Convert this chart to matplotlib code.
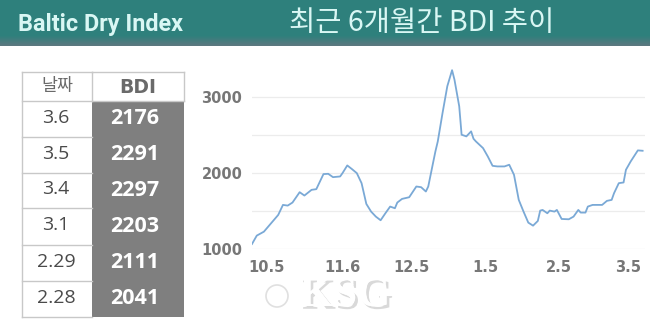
import matplotlib
matplotlib.use("Agg")
import matplotlib.pyplot as plt
import matplotlib.patheffects as pe
import numpy as np
import pandas as pd

plt.rcParams['font.family'] = ['Noto Sans CJK KR', 'DejaVu Sans']

# ---- data ----
dates = ["2023-09-29", "2023-10-01", "2023-10-04", "2023-10-07", "2023-10-10", "2023-10-12",
         "2023-10-14", "2023-10-16", "2023-10-19", "2023-10-21", "2023-10-24", "2023-10-26",
         "2023-10-29", "2023-10-31", "2023-11-02", "2023-11-05", "2023-11-06", "2023-11-08",
         "2023-11-10", "2023-11-12", "2023-11-14", "2023-11-16", "2023-11-18", "2023-11-20",
         "2023-11-22", "2023-11-24", "2023-11-26", "2023-11-28", "2023-11-29", "2023-12-01",
         "2023-12-04", "2023-12-07", "2023-12-09", "2023-12-11", "2023-12-12", "2023-12-14",
         "2023-12-15", "2023-12-16", "2023-12-18", "2023-12-20", "2023-12-22", "2023-12-23",
         "2023-12-25", "2023-12-26", "2023-12-28", "2023-12-30", "2023-12-31", "2024-01-01",
         "2024-01-04", "2024-01-06", "2024-01-08", "2024-01-10", "2024-01-13", "2024-01-15",
         "2024-01-17", "2024-01-19", "2024-01-21", "2024-01-23", "2024-01-25", "2024-01-27",
         "2024-01-28", "2024-01-29", "2024-01-31", "2024-02-01", "2024-02-03", "2024-02-04",
         "2024-02-06", "2024-02-09", "2024-02-11", "2024-02-13", "2024-02-14", "2024-02-16",
         "2024-02-17", "2024-02-19", "2024-02-21", "2024-02-23", "2024-02-25", "2024-02-27",
         "2024-02-28", "2024-03-01", "2024-03-03", "2024-03-04", "2024-03-06", "2024-03-09",
         "2024-03-11"]
bdi = [1066, 1176, 1228, 1338, 1448, 1580,
       1571, 1611, 1747, 1703, 1778, 1787,
       1985, 1989, 1945, 1954, 1998, 2099,
       2050, 1998, 1866, 1593, 1492, 1426,
       1378, 1470, 1558, 1536, 1611, 1659,
       1681, 1822, 1813, 1756, 1822, 2130,
       2283, 2415, 2789, 3141, 3352, 3228,
       2877, 2503, 2481, 2547, 2450, 2415,
       2327, 2217, 2094, 2086, 2086, 2108,
       1976, 1646, 1492, 1347, 1307, 1369,
       1505, 1514, 1470, 1505, 1492, 1514,
       1395, 1391, 1426, 1514, 1479, 1479,
       1558, 1580, 1580, 1580, 1633, 1646,
       1734, 1866, 1875, 2042, 2152, 2297,
       2292]

tick_dates = ["2023-10-05", "2023-11-06", "2023-12-05", "2024-01-05", "2024-02-05", "2024-03-05"]
tick_labels = ["10.5", "11.6", "12.5", "1.5", "2.5", "3.5"]
y_ticks = [1000, 2000, 3000]

table_dates = ["3.6", "3.5", "3.4", "3.1", "2.29", "2.28"]
table_bdi = ["2176", "2291", "2297", "2203", "2111", "2041"]
table_header = ["날짜", "BDI"]

header_left = "Baltic Dry Index"
header_title = "최근 6개월간 BDI 추이"
watermark = "KSG"

# ---- figure ----
W, H = 650, 330
fig = plt.figure(figsize=(W / 100, H / 100), dpi=100)
fig.patch.set_facecolor("white")

# full-figure overlay axes in pixel coords (y down)
tax = fig.add_axes([0, 0, 1, 1])
tax.set_axis_off()

# header band with gradient
top = np.array([0x2e, 0x80, 0x7c]) / 255
bot = np.array([0x5c, 0x78, 0x80]) / 255
t = np.linspace(0, 1, 46)
w = np.clip((t - 0.78) / 0.22, 0, 1)[:, None]
grad = top[None, :] * (1 - w) + bot[None, :] * w
tax.imshow(grad[:, None, :], aspect="auto", extent=[0, W, 46, 0], zorder=0)
tax.set_xlim(0, W)
tax.set_ylim(H, 0)
tax.text(18, 24, header_left, color="#d9f7f4", fontsize=16.8, fontweight="bold",
         va="center", ha="left", family=["Roboto", "DejaVu Sans"], zorder=2)
tax.text(422, 23, header_title, color="#d9f7f4", fontsize=20.5, va="center", ha="center", zorder=2)

# table
x0, x1, x2 = 22, 92, 184
row_edges = [72, 101, 137, 173, 208, 245, 281, 317]
line_c = "#c8c8c8"
tax.add_patch(plt.Rectangle((x1, row_edges[1]), x2 - x1, row_edges[-1] - row_edges[1],
                            facecolor="#7f7f7f", edgecolor="none", zorder=1))
for yy in row_edges:
    tax.plot([x0, x1], [yy, yy], color=line_c, lw=1, zorder=2)
tax.plot([x1, x2], [row_edges[0], row_edges[0]], color=line_c, lw=1, zorder=2)
tax.plot([x1, x2], [row_edges[1], row_edges[1]], color=line_c, lw=1, zorder=2)
tax.plot([x0, x0], [row_edges[0], row_edges[-1]], color=line_c, lw=1, zorder=2)
tax.plot([x1, x1], [row_edges[0], row_edges[1]], color=line_c, lw=1, zorder=2)
tax.plot([x2, x2], [row_edges[0], row_edges[1]], color=line_c, lw=1, zorder=2)

cy = (row_edges[0] + row_edges[1]) / 2
tax.text((x0 + x1) / 2, cy, table_header[0], ha="center", va="center",
         color="#6a6a6a", fontsize=12.5, zorder=3)
tax.text((x1 + x2) / 2, cy + 1, table_header[1], ha="center", va="center",
         color="#6a6a6a", fontsize=13.5, fontweight="bold", family=["DejaVu Sans"], zorder=3)
for i, (d, v) in enumerate(zip(table_dates, table_bdi)):
    cy = (row_edges[i + 1] + row_edges[i + 2]) / 2
    tax.text((x0 + x1) / 2 - 1, cy - 1, d, ha="center", va="center", color="#4a4a4a",
             fontsize=14, family=["Open Sans"], zorder=3)
    tax.text((x1 + x2) / 2 - 3, cy, v, ha="center", va="center", color="white",
             fontsize=15.5, fontweight="bold", family=["Open Sans"], zorder=3)

# watermark
shadow = [pe.withSimplePatchShadow(offset=(2, -2), shadow_rgbFace="#c0c0c0", alpha=0.6), pe.Normal()]
tax.add_patch(plt.Circle((277, 296), 11, facecolor="white", edgecolor="#e0e0e0", lw=1.2, zorder=3))
tax.text(345, 296, watermark, ha="center", va="center", fontsize=31, fontweight="bold",
         family=["Liberation Serif"], color="white", zorder=3, path_effects=shadow)

# line chart
ax = fig.add_axes([252 / W, 1 - 249 / H, (645 - 252) / W, (249 - 65) / H])
x = pd.to_datetime(dates)
ax.plot(x, bdi, color="#7aa9d6", lw=1.3, solid_joinstyle="round", zorder=3)
ax.set_ylim(1000, 3420)
ax.set_xlim(pd.Timestamp("2023-09-29"), pd.Timestamp("2024-03-12"))
for g in [1000, 1500, 2000, 2500, 3000]:
    ax.axhline(g, color="#ececec", lw=0.9, zorder=1)
for s in ax.spines.values():
    s.set_visible(False)
ax.set_yticks(y_ticks)
ax.set_yticklabels([str(v) for v in y_ticks])
ax.set_xticks(pd.to_datetime(tick_dates))
ax.set_xticklabels(tick_labels)
ax.tick_params(axis="both", length=0, colors="#777777", labelsize=10.5)
ax.tick_params(axis="y", pad=7)
ax.tick_params(axis="x", pad=8)
for lab in ax.get_xticklabels() + ax.get_yticklabels():
    lab.set_fontweight("bold")
    lab.set_family(["DejaVu Sans"])
ax.set_facecolor("none")

fig.savefig("out.png", dpi=100, facecolor="white")
